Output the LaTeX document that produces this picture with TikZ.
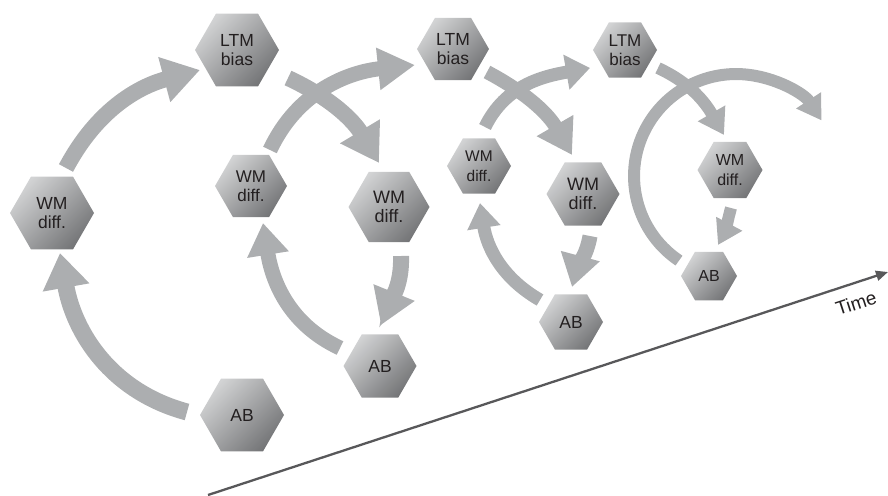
\documentclass[tikz,border=0pt]{standalone}
\usepackage{fontspec}
\setmainfont{Liberation Sans}
\usetikzlibrary{arrows.meta,shapes.geometric,calc}
\definecolor{hexlight}{RGB}{210,211,212}
\definecolor{hexdark}{RGB}{116,117,119}
\definecolor{arrgray}{RGB}{172,174,176}
\definecolor{txtcol}{RGB}{35,31,32}
\definecolor{axiscol}{RGB}{88,88,90}
\begin{document}
\begin{tikzpicture}[x=1pt,y=1pt,
  hexa/.style args={#1/#2}{regular polygon, regular polygon sides=6, inner sep=0pt,
    minimum size=#1pt, shade, top color=hexlight, bottom color=hexdark, shading angle=45,
    text=txtcol, align=center, font=\fontsize{#2}{19.5}\selectfont},
  flow/.style args={#1/#2/#3}{color=arrgray, line width=#1pt,
    -{Triangle[length=#2pt, width=#3pt]}},
  timeaxis/.style={color=axiscol, line width=2.3pt, -{Triangle[length=12pt, width=10pt]}}
]
\useasboundingbox (0,0) rectangle (888,-495);

% hexagons
\node[hexa=84/17.5] (WM1)  at (52,-213)  {WM\\diff.};
\node[hexa=84/17.5] (LTM1) at (237,-50)  {LTM\\bias};
\node[hexa=84/17.5] (AB1)  at (242,-415) {AB};
\node[hexa=72/17]   (WM2a) at (251,-186) {WM\\diff.};
\node[hexa=72/17.5] (LTM2) at (453,-49)  {LTM\\bias};
\node[hexa=81/18]   (WM2b) at (389,-207) {WM\\diff.};
\node[hexa=73/17.5] (AB2)  at (380,-366) {AB};
\node[hexa=64/15.5] (WM3a) at (479,-166) {WM\\diff.};
\node[hexa=64/17]   (LTM3) at (625,-50)  {LTM\\bias};
\node[hexa=73/18]   (WM3b) at (583,-194) {WM\\diff.};
\node[hexa=64/17.5] (AB3)  at (571,-322) {AB};
\node[hexa=65/16]   (WM4)  at (730,-170) {WM\\diff.};
\node[hexa=56/16]   (AB4)  at (709,-276) {AB};

% cycle 1
\draw[flow=17/35/45] ($(AB1)+(-55,3)$) to[out=165,in=-80] ($(WM1)+(8,-40)$);
\draw[flow=16/37/44] ($(WM1)+(14,45)$) to[out=62,in=195] ($(LTM1)+(-37,-20)$);
\draw[flow=16/37/44] ($(LTM1)+(51,-28)$) to[out=-25,in=121] ($(WM2b)+(-10,44)$);
\draw[flow=16/35/42] ($(WM2b)+(12,-49)$) to[out=-88,in=68] ($(AB2)+(1,41)$);
% cycle 2
\draw[flow=15/32/40] ($(AB2)+(-40,18)$) to[out=155,in=-81] ($(WM2a)+(12,-37)$);
\draw[flow=15/37/40] ($(WM2a)+(19,36)$) to[out=65,in=186] ($(LTM2)+(-38,-16)$);
\draw[flow=14/34/40] ($(LTM2)+(34,-23)$) to[out=-28,in=120] ($(WM3b)+(-11,39)$);
\draw[flow=15/32/38] ($(WM3b)+(7,-42)$) to[out=-100,in=75] ($(AB3)+(1,35)$);
% cycle 3
\draw[flow=13/25/32] ($(AB3)+(-31,22)$) to[out=150,in=-81] ($(WM3a)+(1,-37)$);
\draw[flow=13/24/34] ($(WM3a)+(6,39)$) to[out=64,in=190] ($(LTM3)+(-35,-18)$);
\draw[flow=12/25/30] ($(LTM3)+(33,-18)$) to[out=-25,in=120] ($(WM4)+(-6,35)$);
\draw[flow=12/24/28] ($(WM4)+(1,-38)$) to[out=-105,in=62] ($(AB4)+(9,31)$);
% cycle 4
\draw[flow=12/24/28] ($(AB4)+(-30,15.4)$) arc[start angle=236, end angle=33, radius=102];

% time axis
\coordinate (t0) at (208,-495);
\coordinate (t1) at (888,-272);
\draw[timeaxis] (t0) -- (t1);
\node[rotate=18, text=txtcol, font=\fontsize{19}{21}\selectfont] (time) at (856,-303) {Time};
\end{tikzpicture}
\end{document}
